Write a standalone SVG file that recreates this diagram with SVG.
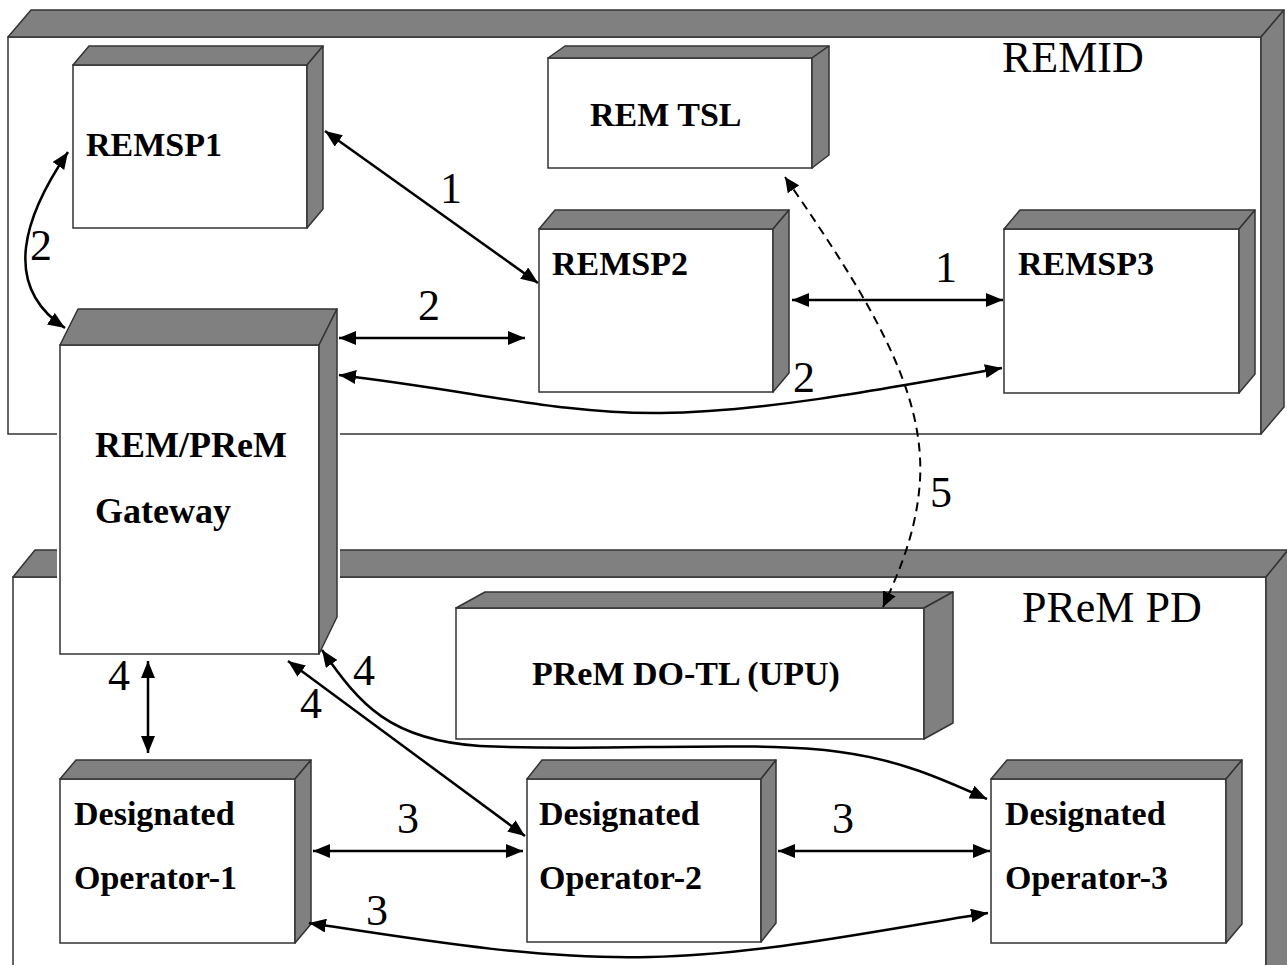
<svg xmlns="http://www.w3.org/2000/svg" width="1287" height="965" viewBox="0 0 1287 965">
<style>
.face{fill:#808080;stroke:#333;stroke-width:1.5;stroke-linejoin:round}
.front{fill:#fff;stroke:#333;stroke-width:1.5}
.halo{fill:none;stroke:#fff;stroke-width:6}
.nt{font-family:"Liberation Serif","Times New Roman",serif;font-weight:bold;font-size:34px;fill:#000}
.ct{font-family:"Liberation Serif","Times New Roman",serif;font-size:44px;fill:#000}
.num{font-family:"Liberation Serif","Times New Roman",serif;font-size:44px;fill:#000}
.ln{fill:none;stroke:#000;stroke-width:2.5;marker-start:url(#ah);marker-end:url(#ah)}
.one{fill:none;stroke:#000;stroke-width:2.5;marker-end:url(#ah)}
.dash{fill:none;stroke:#000;stroke-width:2;stroke-dasharray:9 6;marker-start:url(#ah2);marker-end:url(#ah2)}
</style>
<defs>
<marker id="ah" markerUnits="userSpaceOnUse" markerWidth="18" markerHeight="14" refX="17" refY="7" orient="auto-start-reverse"><path d="M0,0 L17,7 L0,14 z" fill="#000"/></marker>
<marker id="ah2" markerUnits="userSpaceOnUse" markerWidth="16" markerHeight="14" refX="15" refY="7" orient="auto-start-reverse"><path d="M0,0 L15,7 L0,14 z" fill="#000"/></marker>
</defs>
<rect width="1287" height="965" fill="#fff"/>

<g id="remid">
<rect class="front" x="8" y="37" width="1253" height="397"/>
<polygon class="face" points="8,37 31,10 1284,10 1261,37"/>
<polygon class="face" points="1261,37 1284,10 1284,407 1261,434"/>
<text class="ct" x="1002" y="72">REMID</text>
</g>

<g id="prempd">
<rect class="front" x="13" y="577" width="1253" height="420"/>
<polygon class="face" points="13,577 35,550 1288,550 1266,577"/>
<polygon class="face" points="1266,577 1288,550 1288,990 1266,1000"/>
<text class="ct" x="1022" y="622">PReM PD</text>
</g>

<g id="remsp1">
<rect class="front" x="73" y="65" width="234" height="163"/>
<polygon class="face" points="73,65 89,46 323,46 307,65"/>
<polygon class="face" points="307,65 323,46 323,209 307,228"/>
<text class="nt" x="86" y="156">REMSP1</text>
</g>

<g id="remtsl">
<rect class="front" x="548" y="58" width="264" height="110"/>
<polygon class="face" points="548,58 565,46 829,46 812,58"/>
<polygon class="face" points="812,58 829,46 829,155 812,168"/>
<text class="nt" x="590" y="126">REM TSL</text>
</g>

<g id="remsp2">
<rect class="front" x="539" y="229" width="234" height="163"/>
<polygon class="face" points="539,229 555,210 789,210 773,229"/>
<polygon class="face" points="773,229 789,210 789,373 773,392"/>
<text class="nt" x="552" y="275">REMSP2</text>
</g>

<g id="remsp3">
<rect class="front" x="1004" y="229" width="235" height="164"/>
<polygon class="face" points="1004,229 1020,210 1255,210 1239,229"/>
<polygon class="face" points="1239,229 1255,210 1255,374 1239,393"/>
<text class="nt" x="1018" y="275">REMSP3</text>
</g>

<g id="gateway">
<polygon class="halo" points="60,345 78,309 337,309 337,617 319,654 60,654"/>
<rect class="front" x="60" y="345" width="259" height="309"/>
<polygon class="face" points="60,345 78,309 337,309 319,345"/>
<polygon class="face" points="319,345 337,309 337,617 319,654"/>
<text class="nt" style="font-size:36px" x="95" y="457">REM/PReM</text>
<text class="nt" style="font-size:36px" x="95" y="523">Gateway</text>
</g>

<g id="dotl">
<rect class="front" x="456" y="608" width="468" height="131"/>
<polygon class="face" points="456,608 485,592 953,592 924,608"/>
<polygon class="face" points="924,608 953,592 953,723 924,739"/>
<text class="nt" x="532" y="685">PReM DO-TL (UPU)</text>
</g>

<g id="op1">
<rect class="front" x="60" y="779" width="235" height="164"/>
<polygon class="face" points="60,779 76,760 311,760 295,779"/>
<polygon class="face" points="295,779 311,760 311,924 295,943"/>
<text class="nt" x="74" y="825">Designated</text>
<text class="nt" x="74" y="889">Operator-1</text>
</g>

<g id="op2">
<rect class="front" x="527" y="779" width="234" height="163"/>
<polygon class="face" points="527,779 542,760 776,760 761,779"/>
<polygon class="face" points="761,779 776,760 776,923 761,942"/>
<text class="nt" x="539" y="825">Designated</text>
<text class="nt" x="539" y="889">Operator-2</text>
</g>

<g id="op3">
<rect class="front" x="991" y="779" width="235" height="164"/>
<polygon class="face" points="991,779 1007,760 1242,760 1226,779"/>
<polygon class="face" points="1226,779 1242,760 1242,924 1226,943"/>
<text class="nt" x="1005" y="825">Designated</text>
<text class="nt" x="1005" y="889">Operator-3</text>
</g>

<g id="connectors">
<path class="ln" d="M325,131 L538,283"/>
<path class="ln" d="M792,300 L1003,300"/>
<path class="ln" d="M68,152 C25,215 0,285 65,328"/>
<path class="ln" d="M339,338 L525,338"/>
<path class="ln" d="M339,375 C480,392 560,414 660,413 C760,412 880,390 1002,368"/>
<path class="ln" d="M148,661 L148,753"/>
<path class="ln" d="M288,661 L525,836"/>
<path class="ln" d="M322,650 C360,705 390,740 480,746 C600,752 760,740 840,752 C900,760 940,778 987,799"/>
<path class="ln" d="M313,851 L523,851"/>
<path class="ln" d="M778,851 L990,851"/>
<path class="ln" d="M309,923 C420,940 540,960 650,957 C760,955 880,930 988,913"/>
<path class="dash" d="M785,177 C870,300 925,390 920,480 C917,530 900,570 883,607"/>
<text class="num" x="440" y="203">1</text>
<text class="num" x="935" y="282">1</text>
<text class="num" x="30" y="260">2</text>
<text class="num" x="418" y="320">2</text>
<text class="num" x="793" y="392">2</text>
<text class="num" x="108" y="690">4</text>
<text class="num" x="300" y="718">4</text>
<text class="num" x="353" y="685">4</text>
<text class="num" x="397" y="833">3</text>
<text class="num" x="832" y="833">3</text>
<text class="num" x="366" y="925">3</text>
<text class="num" x="930" y="507">5</text>
</g>
</svg>
